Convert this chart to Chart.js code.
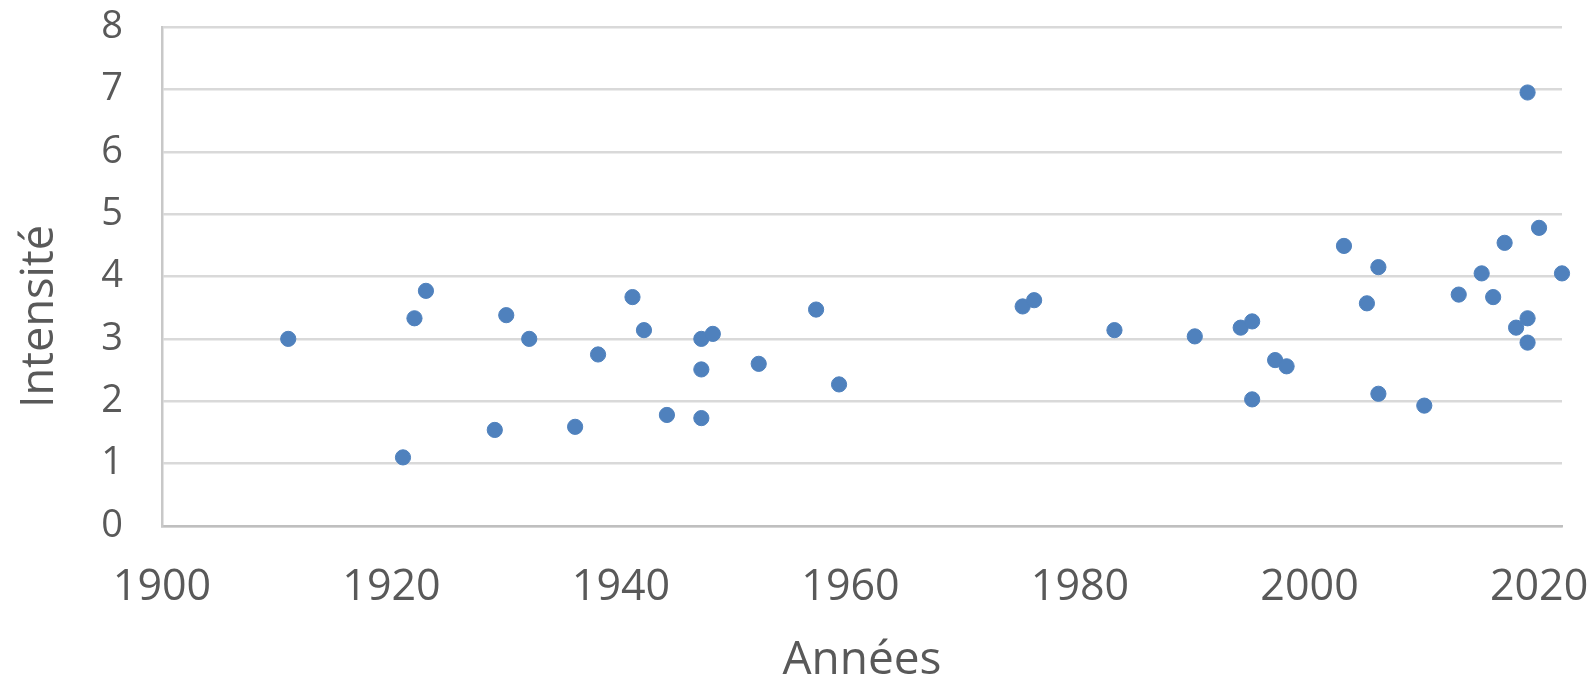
<!DOCTYPE html>
<html lang="fr">
<head>
<meta charset="utf-8">
<title>Intensité par année</title>
<script src="https://cdn.jsdelivr.net/npm/chart.js@4.4.1/dist/chart.umd.min.js"></script>
<style>
  html, body { margin: 0; padding: 0; background: #fff; }
  #graphique { display: block; }
</style>
</head>
<body>
<canvas id="graphique" width="1593" height="684"></canvas>
<script>
// valeurs
const annees = [1911, 1921, 1922, 1923, 1929, 1930, 1932, 1936, 1938, 1941,
  1942, 1944, 1947, 1947, 1947, 1948, 1952, 1957, 1959, 1975,
  1976, 1983, 1990, 1994, 1995, 1995, 1997, 1998, 2003, 2005,
  2006, 2006, 2010, 2013, 2015, 2016, 2017, 2018, 2019, 2019,
  2019, 2020, 2022];
const intensites = [3.0, 1.1, 3.33, 3.77, 1.54, 3.38, 3.0, 1.59, 2.75, 3.67,
  3.14, 1.78, 3.0, 2.51, 1.73, 3.08, 2.6, 3.47, 2.27, 3.52,
  3.62, 3.14, 3.04, 3.18, 3.28, 2.03, 2.66, 2.56, 4.49, 3.57,
  4.15, 2.12, 1.93, 3.71, 4.05, 3.67, 4.54, 3.18, 6.95, 3.33,
  2.94, 4.78, 4.05];
const ticksAnnees = [1900, 1920, 1940, 1960, 1980, 2000, 2020];
const titreX = "Années";
const titreY = "Intensité";

const gris = "#595959";
const police = '"Open Sans", "Liberation Sans", sans-serif';

const points = annees.map((a, i) => ({ x: a, y: intensites[i] }));

// pas de marge automatique, la zone de tracé est fixée par layout.padding
function sansMarge(axis) {
  axis.paddingTop = 0;
  axis.paddingBottom = 0;
  axis.paddingLeft = 0;
  axis.paddingRight = 0;
}

// titre vertical décalé vers le bas comme dans l'original
const titreVertical = {
  id: "titreVertical",
  afterDraw(chart) {
    const ctx = chart.ctx;
    const y = chart.scales.y;
    ctx.save();
    ctx.translate(40, (y.top + y.bottom) / 2 + 40);
    ctx.rotate(-Math.PI / 2);
    ctx.font = "45px " + police;
    ctx.fillStyle = gris;
    ctx.textAlign = "center";
    ctx.textBaseline = "middle";
    ctx.fillText(titreY, 0, 0);
    ctx.restore();
  }
};

new Chart(document.getElementById("graphique"), {
  type: "scatter",
  data: {
    datasets: [{
      label: titreY,
      data: points,
      backgroundColor: "#4F81BD",
      borderColor: "#4F81BD",
      pointRadius: 7.6,
      pointHoverRadius: 7.6,
      clip: false
    }]
  },
  options: {
    responsive: false,
    animation: false,
    layout: { padding: { top: 27, right: 31, left: 0, bottom: 0 } },
    plugins: {
      legend: { display: false },
      tooltip: { enabled: false }
    },
    scales: {
      x: {
        type: "linear",
        min: 1900,
        max: 2022,
        afterBuildTicks: (axis) => {
          axis.ticks = ticksAnnees.map(v => ({ value: v }));
        },
        afterFit: (axis) => { axis.height = 158; sansMarge(axis); },
        grid: { display: false, drawTicks: false },
        border: { display: true, color: "#BFBFBF", width: 2.5 },
        ticks: {
          color: gris,
          font: { family: police, size: 43 },
          padding: 36,
          maxRotation: 0,
          callback: (v) => String(v)
        },
        title: {
          display: true,
          text: titreX,
          color: gris,
          font: { family: police, size: 46, lineHeight: 1 },
          padding: { top: 0, bottom: 0 }
        }
      },
      y: {
        min: 0,
        max: 8,
        afterFit: (axis) => { axis.width = 162; sansMarge(axis); },
        ticks: {
          stepSize: 1,
          color: gris,
          font: { family: police, size: 38 },
          padding: 39
        },
        grid: { color: "#D9D9D9", lineWidth: 2.5, drawTicks: false },
        border: { display: true, color: "#C8C8C8", width: 2.5 }
      }
    }
  },
  plugins: [titreVertical]
});
</script>
</body>
</html>
